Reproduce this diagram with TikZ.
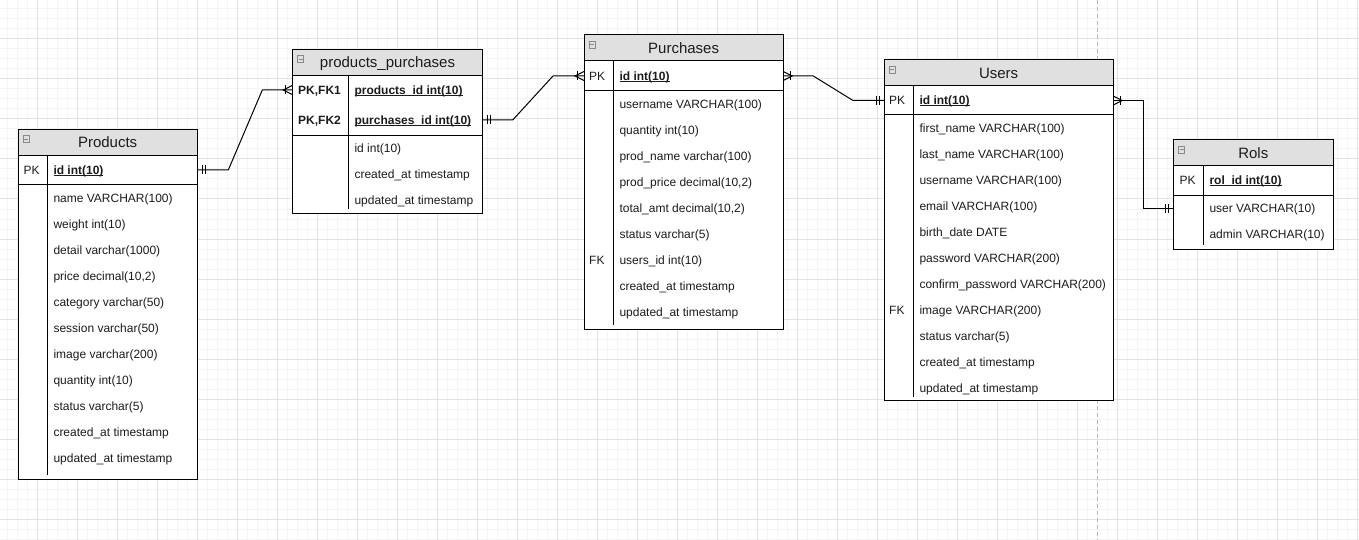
\documentclass[tikz,border=0pt]{standalone}
\usepackage{fontspec}
\setmainfont{Liberation Sans}
\usetikzlibrary{calc}

\definecolor{gridminor}{HTML}{F4F4F4}
\definecolor{gridmajor}{HTML}{E2E2E2}
\definecolor{headfill}{HTML}{E0E0E0}
\definecolor{inktext}{HTML}{1C1C1C}
\definecolor{iconline}{HTML}{8A8A8A}
\definecolor{guideline}{HTML}{B8B8B8}

% underlined key text with the rule close to the baseline
\newsavebox\erulbox
\newcommand\erul[1]{\sbox\erulbox{#1}\rlap{\rule[-1.4pt]{\wd\erulbox}{0.8pt}}\usebox\erulbox}

\tikzset{
  erline/.style={draw=black, line width=1pt},
  erconn/.style={draw=black, line width=1pt},
  ericon/.style={draw=iconline, line width=0.7pt},
  erframe/.style={fill=white, draw=none, inner sep=0pt, outer sep=0pt},
  ertitle/.style={anchor=base, inner sep=0pt, font=\fontsize{15}{18}\selectfont, text=inktext},
  erfield/.style={anchor=west, inner sep=0pt, text height=8.6pt, text depth=0pt,
                  font=\fontsize{12}{14}\selectfont, text=inktext},
  erkey/.style={erfield},
}

% entity box: name, title, left, top, right, bottom, key-section bottom, divider x
\newcommand\ertable[8]{%
  \node[erframe, minimum width={#5-#3}, minimum height={#6-#4}, anchor=north west] (#1) at (#3,#4) {};
  \fill[headfill] (#3,#4) rectangle (#5,#4+26);
  \draw[erline] (#1.north west) rectangle (#1.south east);
  \draw[erline] (#3,#4+26) -- (#5,#4+26);
  \draw[erline] (#3,#7) -- (#5,#7);
  \draw[erline] (#8,#4+26) -- (#8,#6-4);
  \draw[ericon] (#3+5,#4+6.5) rectangle (#3+11.5,#4+13);
  \draw[ericon] (#3+6.3,#4+9.75) -- (#3+10.2,#4+9.75);
  \node[ertitle] (#1-title) at ({(#3+#5)/2},#4+18.5) {#2};
}

% relationship end marks: point, direction of the line away from the box (1 or -1)
\newcommand\ermandone[2]{%
  \draw[erconn] ($(#1)+(#2*5,-4.5)$) -- ++(0,9);
  \draw[erconn] ($(#1)+(#2*8,-4.5)$) -- ++(0,9);
}
\newcommand\ercrowfoot[2]{%
  \draw[erconn] ($(#1)+(0,-4.5)$) -- ($(#1)+(#2*9,0)$) -- ($(#1)+(0,4.5)$);
  \draw[erconn] ($(#1)+(#2*7,-4.5)$) -- ++(0,9);
}

\begin{document}
\begin{tikzpicture}[x=1pt, y=-1pt, line cap=butt, line join=miter]
\useasboundingbox (0,0) rectangle (1359,540);

% background grid
\fill[white] (0,0) rectangle (1359,540);
\foreach \x in {7,17,...,1357} \draw[gridminor, line width=1pt] (\x,0) -- (\x,540);
\foreach \y in {9,19,...,539} \draw[gridminor, line width=1pt] (0,\y) -- (1359,\y);
\foreach \x in {37,77,...,1357} \draw[gridmajor, line width=1pt] (\x,0) -- (\x,540);
\foreach \y in {39,79,...,519} \draw[gridmajor, line width=1pt] (0,\y) -- (1359,\y);

% page break guide
\draw[guideline, line width=1pt, dash pattern=on 4pt off 3pt] (1097,0) -- (1097,540);

% ---------- Products ----------
\ertable{products}{Products}{18}{129.3}{197.3}{479}{185}{47.5}
\node[erkey] (products-pkl) at (23.3,170) {PK};
\node[erfield] (products-id) at (53.3,170) {\erul{\textbf{id int(10)}}};
\node[erfield] (products-f1) at (53.3,198) {name VARCHAR(100)};
\node[erfield] (products-f2) at (53.3,224) {weight int(10)};
\node[erfield] (products-f3) at (53.3,250) {detail varchar(1000)};
\node[erfield] (products-f4) at (53.3,276) {price decimal(10,2)};
\node[erfield] (products-f5) at (53.3,302) {category varchar(50)};
\node[erfield] (products-f6) at (53.3,328) {session varchar(50)};
\node[erfield] (products-f7) at (53.3,354) {image varchar(200)};
\node[erfield] (products-f8) at (53.3,380) {quantity int(10)};
\node[erfield] (products-f9) at (53.3,406) {status varchar(5)};
\node[erfield] (products-f10) at (53.3,432) {created\_at timestamp};
\node[erfield] (products-f11) at (53.3,458) {updated\_at timestamp};

% ---------- products_purchases ----------
\ertable{pp}{products\_purchases}{292.3}{49.3}{482.7}{213.3}{135.7}{348.3}
\node[erkey] (pp-k1) at (298,90) {\textbf{PK,FK1}};
\node[erkey] (pp-k2) at (298,120) {\textbf{PK,FK2}};
\node[erfield] (pp-prod) at (354.3,90) {\erul{\textbf{products\_id int(10)}}};
\node[erfield] (pp-purch) at (354.3,120) {\erul{\textbf{purchases\_id int(10)}}};
\node[erfield] (pp-f1) at (354.3,148.3) {id int(10)};
\node[erfield] (pp-f2) at (354.3,174) {created\_at timestamp};
\node[erfield] (pp-f3) at (354.3,200) {updated\_at timestamp};

% ---------- Purchases ----------
\ertable{purchases}{Purchases}{584}{35}{783.3}{329}{91}{613.3}
\node[erkey] (purchases-pkl) at (589,76) {PK};
\node[erkey] (purchases-fkl) at (589,260) {FK};
\node[erfield] (purchases-id) at (619.3,76) {\erul{\textbf{id int(10)}}};
\node[erfield] (purchases-f1) at (619.3,104) {username VARCHAR(100)};
\node[erfield] (purchases-f2) at (619.3,130) {quantity int(10)};
\node[erfield] (purchases-f3) at (619.3,156) {prod\_name varchar(100)};
\node[erfield] (purchases-f4) at (619.3,182) {prod\_price decimal(10,2)};
\node[erfield] (purchases-f5) at (619.3,208) {total\_amt decimal(10,2)};
\node[erfield] (purchases-f6) at (619.3,234) {status varchar(5)};
\node[erfield] (purchases-f7) at (619.3,260) {users\_id int(10)};
\node[erfield] (purchases-f8) at (619.3,286) {created\_at timestamp};
\node[erfield] (purchases-f9) at (619.3,312) {updated\_at timestamp};

% ---------- Users ----------
\ertable{users}{Users}{884}{60}{1113.3}{400.7}{115}{913.3}
\node[erkey] (users-pkl) at (889,100.5) {PK};
\node[erkey] (users-fkl) at (889,310) {FK};
\node[erfield] (users-id) at (919.3,100.5) {\erul{\textbf{id int(10)}}};
\node[erfield] (users-f1) at (919.3,128) {first\_name VARCHAR(100)};
\node[erfield] (users-f2) at (919.3,154) {last\_name VARCHAR(100)};
\node[erfield] (users-f3) at (919.3,180) {username VARCHAR(100)};
\node[erfield] (users-f4) at (919.3,206) {email VARCHAR(100)};
\node[erfield] (users-f5) at (919.3,232) {birth\_date DATE};
\node[erfield] (users-f6) at (919.3,258) {password VARCHAR(200)};
\node[erfield] (users-f7) at (919.3,284) {confirm\_password VARCHAR(200)};
\node[erfield] (users-f8) at (919.3,310) {image VARCHAR(200)};
\node[erfield] (users-f9) at (919.3,336) {status varchar(5)};
\node[erfield] (users-f10) at (919.3,362) {created\_at timestamp};
\node[erfield] (users-f11) at (919.3,388) {updated\_at timestamp};

% ---------- Rols ----------
\ertable{rols}{Rols}{1173.3}{140}{1333.3}{249}{195.7}{1203.3}
\node[erkey] (rols-pkl) at (1179.3,180) {PK};
\node[erfield] (rols-id) at (1209.3,180) {\erul{\textbf{rol\_id int(10)}}};
\node[erfield] (rols-user) at (1209.3,208.3) {user VARCHAR(10)};
\node[erfield] (rols-admin) at (1209.3,234.3) {admin VARCHAR(10)};

% ---------- relationships ----------
\coordinate (r1a) at (products.east |- products-id);
\coordinate (r1b) at (pp.west |- pp-prod);
\draw[erconn] (r1a) -- ++(31,0) -- ($(r1b)+(-30,0)$) -- (r1b);
\ermandone{r1a}{1}
\ercrowfoot{r1b}{-1}

\coordinate (r2a) at (pp.east |- pp-purch);
\coordinate (r2b) at (purchases.west |- purchases-id);
\draw[erconn] (r2a) -- ++(30,0) -- ($(r2b)+(-31,0)$) -- (r2b);
\ermandone{r2a}{1}
\ercrowfoot{r2b}{-1}

\coordinate (r3a) at (purchases.east |- purchases-id);
\coordinate (r3b) at (users.west |- users-id);
\draw[erconn] (r3a) -- ++(30,0) -- ($(r3b)+(-31,0)$) -- (r3b);
\ercrowfoot{r3a}{1}
\ermandone{r3b}{-1}

\coordinate (r4a) at (users.east |- users-id);
\coordinate (r4b) at (rols.west |- rols-user);
\draw[erconn] (r4a) -- ++(30,0) |- (r4b);
\ercrowfoot{r4a}{1}
\ermandone{r4b}{-1}

\end{tikzpicture}
\end{document}
